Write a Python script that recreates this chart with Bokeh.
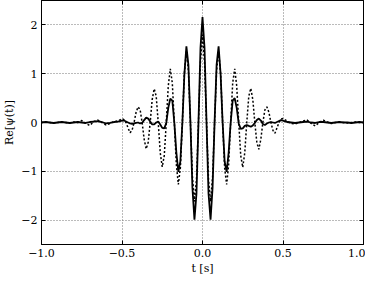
from bokeh.plotting import figure
from bokeh.models import Range1d, FixedTicker, LinearAxis
from bokeh.embed import file_html
from bokeh.resources import INLINE

# time samples [s]
t = [-1.0, -0.975, -0.95, -0.925, -0.9, -0.875, -0.85, -0.825, -0.8, -0.775,
     -0.75, -0.725, -0.7, -0.675, -0.65, -0.625, -0.6, -0.575, -0.55, -0.525,
     -0.5, -0.4875, -0.475, -0.4625, -0.45, -0.4375, -0.425, -0.4125,
     -0.4, -0.3875, -0.375, -0.3625, -0.35, -0.3375, -0.325, -0.3125,
     -0.3, -0.2875, -0.275, -0.2625, -0.25, -0.2375, -0.225, -0.2125,
     -0.2, -0.1875, -0.175, -0.1625, -0.15, -0.1375, -0.125, -0.1125,
     -0.1, -0.0875, -0.075, -0.0625, -0.05, -0.0375, -0.025, -0.0125,
     0.0,
     0.0125, 0.025, 0.0375, 0.05, 0.0625, 0.075, 0.0875, 0.1,
     0.1125, 0.125, 0.1375, 0.15, 0.1625, 0.175, 0.1875, 0.2,
     0.2125, 0.225, 0.2375, 0.25, 0.2625, 0.275, 0.2875, 0.3,
     0.3125, 0.325, 0.3375, 0.35, 0.3625, 0.375, 0.3875, 0.4,
     0.4125, 0.425, 0.4375, 0.45, 0.4625, 0.475, 0.4875, 0.5,
     0.525, 0.55, 0.575, 0.6, 0.625, 0.65, 0.675, 0.7, 0.725, 0.75,
     0.775, 0.8, 0.825, 0.85, 0.875, 0.9, 0.925, 0.95, 0.975, 1.0]

# solid curve: Re[psi(t)]
psi_solid = [0.0, 0.01, 0.0, -0.01, 0.0, 0.01, 0.0, -0.01, 0.0, 0.01,
             0.0, -0.01, 0.01, 0.02, 0.03, 0.01, -0.02, -0.01, 0.01, 0.02,
             0.04, 0.04, 0.02, 0.0, -0.02, -0.03, -0.02, -0.01,
             0.0, -0.02, -0.01, 0.05, 0.10, 0.08, 0.02, -0.04,
             -0.04, 0.0, 0.02, -0.04, -0.11, -0.12, -0.01, 0.30,
             0.49, 0.45, 0.0, -0.61, -1.01, -0.80, 0.0, 0.99,
             1.56, 1.18, 0.0, -1.34, -1.99, -1.46, 0.0, 1.53,
             2.16,
             1.53, 0.0, -1.46, -1.99, -1.34, 0.0, 1.18, 1.56,
             0.99, 0.0, -0.80, -1.01, -0.61, 0.0, 0.45, 0.50,
             0.30, -0.02, -0.13, -0.12, -0.07, -0.05, -0.07, -0.085,
             -0.06, -0.01, 0.05, 0.08, 0.04, -0.03, -0.05, -0.02,
             0.0, 0.01, 0.0, -0.01, 0.01, 0.03, 0.05, 0.04,
             0.01, 0.0, -0.01, 0.0, 0.01, 0.02, 0.0, -0.01, 0.01, 0.01,
             0.0, -0.01, 0.0, 0.01, 0.0, 0.0, -0.01, 0.0, 0.01, 0.0]

# dotted curve: Re[psi(t)]
psi_dotted = [0.0, 0.01, 0.0, -0.01, 0.0, 0.01, 0.0, -0.01, 0.01, 0.0,
              0.04, -0.02, -0.06, 0.02, 0.05, 0.0, -0.05, -0.02, 0.02, 0.03,
              0.08, 0.06, 0.0, -0.11, -0.21, -0.16, 0.0, 0.21,
              0.32, 0.26, 0.0, -0.34, -0.54, -0.41, 0.0, 0.47,
              0.69, 0.54, 0.0, -0.62, -0.91, -0.68, 0.0, 0.75,
              1.10, 0.81, 0.0, -0.86, -1.27, -0.93, 0.0, 1.0,
              1.47, 1.06, 0.0, -1.12, -1.62, -1.18, 0.0, 1.24,
              1.80,
              1.24, 0.0, -1.18, -1.62, -1.12, 0.0, 1.06, 1.47,
              1.0, 0.0, -0.93, -1.27, -0.86, 0.0, 0.81, 1.10,
              0.75, 0.0, -0.68, -0.92, -0.62, 0.0, 0.54, 0.70,
              0.47, 0.0, -0.41, -0.55, -0.34, 0.0, 0.26, 0.32,
              0.21, 0.0, -0.16, -0.22, -0.11, 0.0, 0.07, 0.08,
              0.03, -0.02, -0.03, 0.0, 0.03, 0.05, -0.02, -0.07, 0.0, 0.05,
              0.01, -0.02, 0.0, 0.01, 0.0, -0.01, 0.0, 0.01, 0.0, 0.0]

x_ticks = [-1.0, -0.5, 0.0, 0.5, 1.0]
x_tick_labels = ["\u22121.0", "\u22120.5", "0.0", "0.5", "1.0"]
y_ticks = [-2, -1, 0, 1, 2]
y_tick_labels = ["\u22122", "\u22121", "0", "1", "2"]

FONT = "'DejaVu Serif', serif"

p = figure(width=365, height=277, output_backend="svg", toolbar_location=None,
           x_range=Range1d(-1.0, 1.0), y_range=Range1d(-2.5, 2.5),
           min_border_left=4, min_border_right=2, min_border_top=0, min_border_bottom=2)

bottom_ax = p.below[0]
left_ax = p.left[0]

p.line(t, psi_dotted, line_color="black", line_width=1.5, line_dash="2 2")
p.line(t, psi_solid, line_color="black", line_width=1.8)

p.outline_line_color = "black"
p.outline_line_width = 1
p.outline_line_alpha = 1

bottom_ax.ticker = FixedTicker(ticks=x_ticks)
left_ax.ticker = FixedTicker(ticks=y_ticks)
bottom_ax.major_label_overrides = {v: s for v, s in zip(x_ticks, x_tick_labels)}
left_ax.major_label_overrides = {v: s for v, s in zip(y_ticks, y_tick_labels)}
bottom_ax.axis_label = "t [s]"
left_ax.axis_label = "Re[\u03c8(t)]"

for ax in (bottom_ax, left_ax):
    ax.axis_line_color = "black"
    ax.major_tick_in = 4
    ax.major_tick_out = 0
    ax.minor_tick_line_color = None
    ax.major_label_text_font = FONT
    ax.major_label_text_font_size = "11px"
    ax.major_label_text_color = "black"
    ax.axis_label_text_font = FONT
    ax.axis_label_text_font_size = "11px"
    ax.axis_label_text_font_style = "normal"
    ax.axis_label_text_color = "black"
    ax.axis_label_standoff = 2
    ax.major_label_standoff = 4

# tick marks on top and right, no labels
top_ax = LinearAxis(ticker=FixedTicker(ticks=x_ticks), major_tick_in=4, major_tick_out=0,
                    minor_tick_line_color=None, major_label_text_font_size="0px",
                    major_label_standoff=0, axis_line_color="black")
right_ax = LinearAxis(ticker=FixedTicker(ticks=y_ticks), major_tick_in=4, major_tick_out=0,
                      minor_tick_line_color=None, major_label_text_font_size="0px",
                      major_label_standoff=0, axis_line_color="black")
top_ax.major_label_overrides = {v: "" for v in x_ticks}
right_ax.major_label_overrides = {v: "" for v in y_ticks}
p.add_layout(top_ax, "above")
p.add_layout(right_ax, "right")

p.xgrid.ticker = FixedTicker(ticks=x_ticks)
p.ygrid.ticker = FixedTicker(ticks=y_ticks)
p.grid.grid_line_color = "#777777"
p.grid.grid_line_width = 1
p.grid.grid_line_dash = "1 2"

p.background_fill_color = "white"
p.border_fill_color = "white"

open("out.html", "w").write(file_html(p, INLINE))
